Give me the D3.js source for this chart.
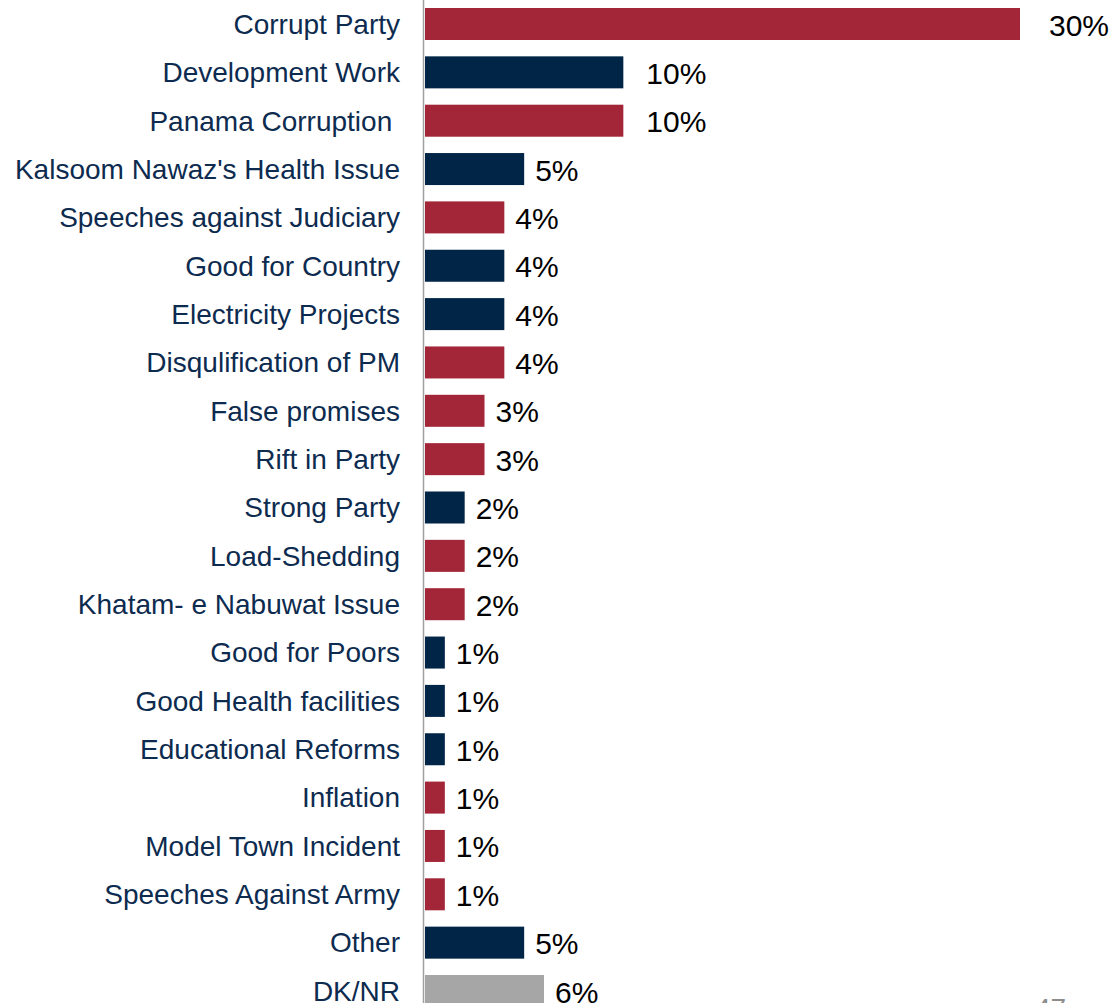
<!DOCTYPE html>
<html>
<head>
<meta charset="utf-8">
<script src="https://cdn.jsdelivr.net/npm/d3@7"></script>
<style>
  html, body { margin: 0; padding: 0; background: #ffffff; }
  svg { display: block; }
</style>
</head>
<body>
<svg id="chart" width="1115" height="1003"></svg>
<script>
const categories = [
  "Corrupt Party", "Development Work", "Panama Corruption ", "Kalsoom Nawaz's Health Issue",
  "Speeches against Judiciary", "Good for Country", "Electricity Projects", "Disqulification of PM",
  "False promises", "Rift in Party", "Strong Party", "Load-Shedding", "Khatam- e Nabuwat Issue",
  "Good for Poors", "Good Health facilities", "Educational Reforms", "Inflation",
  "Model Town Incident", "Speeches Against Army", "Other", "DK/NR"
];
const values = [30, 10, 10, 5, 4, 4, 4, 4, 3, 3, 2, 2, 2, 1, 1, 1, 1, 1, 1, 5, 6];
const groups = [
  "neg", "pos", "neg", "pos", "neg", "pos", "pos", "neg", "neg", "neg", "pos", "neg", "neg",
  "pos", "pos", "pos", "neg", "neg", "neg", "pos", "dk"
];
const valueLabels = values.map(v => v + "%");
const pageNumber = "47";

const colors = { neg: "#A32638", pos: "#002547", dk: "#A6A6A6" };

const svg = d3.select("#chart");
const step = 48.35;
const y = d3.scaleBand()
  .domain(categories)
  .range([24 - step / 2, 24 - step / 2 + categories.length * step])
  .paddingInner(0.338)
  .paddingOuter(0.169);
const x = d3.scaleLinear().domain([0, 30]).range([425, 1020]);

const data = categories.map((c, i) => ({ c, v: values[i], g: groups[i], l: valueLabels[i] }));

svg.selectAll("rect.bar").data(data).enter().append("rect")
  .attr("class", "bar")
  .attr("x", x(0))
  .attr("y", d => y(d.c))
  .attr("width", d => x(d.v) - x(0))
  .attr("height", y.bandwidth())
  .attr("fill", d => colors[d.g]);

// axis line
svg.append("line")
  .attr("x1", 423.5).attr("x2", 423.5)
  .attr("y1", 0).attr("y2", 1003)
  .attr("stroke", "#A0A0A0").attr("stroke-width", 1.5);

svg.selectAll("text.cat").data(data).enter().append("text")
  .attr("class", "cat")
  .attr("x", 400)
  .attr("y", d => y(d.c) + y.bandwidth() / 2)
  .attr("dy", "0.35em")
  .attr("text-anchor", "end")
  .attr("font-family", "Liberation Sans, Arial, sans-serif")
  .attr("font-size", 28)
  .attr("fill", "#0D2B4F")
  .attr("xml:space", "preserve")
  .text(d => d.c);

svg.selectAll("text.val").data(data).enter().append("text")
  .attr("class", "val")
  .attr("x", d => x(d.v) + (d.v >= 30 ? 29 : d.v >= 10 ? 23 : 11))
  .attr("y", d => y(d.c) + y.bandwidth() / 2 + 1)
  .attr("dy", "0.35em")
  .attr("font-family", "Liberation Sans, Arial, sans-serif")
  .attr("font-size", 30)
  .attr("fill", "#000000")
  .text(d => d.l);

svg.append("text")
  .attr("x", 1035).attr("y", 1018)
  .attr("font-family", "Liberation Sans, Arial, sans-serif")
  .attr("font-size", 28)
  .attr("fill", "#8C8C8C")
  .text(pageNumber);
</script>
</body>
</html>
